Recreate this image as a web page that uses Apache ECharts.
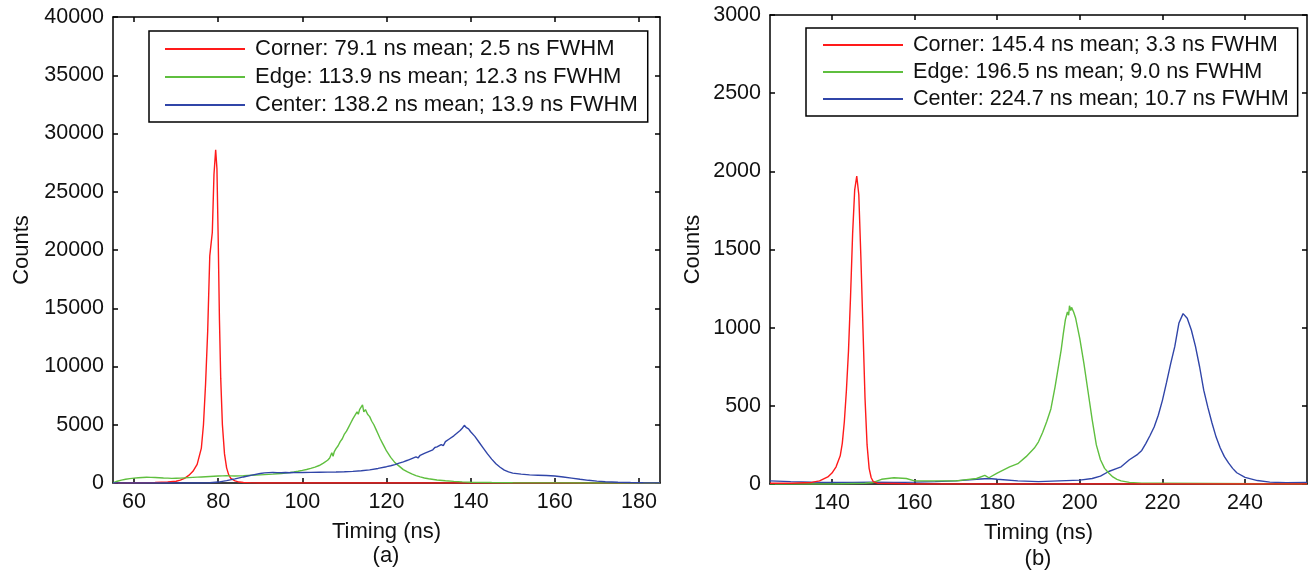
<!DOCTYPE html>
<html>
<head>
<meta charset="utf-8">
<script src="https://cdn.jsdelivr.net/npm/echarts@6/dist/echarts.min.js"></script>
<style>
  html, body { margin: 0; padding: 0; background: #fff; }
  #chart { width: 1316px; height: 576px; }
</style>
</head>
<body>
<div id="chart"></div>
<script>
// panel (a): [timing ns, counts]
const cornerA = [[55,0],[60,20],[65,40],[68,80],[70,150],[71,250],[72,400],[73,650],[74,1000],[75,1600],[76,3000],[76.5,5000],[77,8500],[77.5,13000],[78,19500],[78.3,20500],[78.6,21500],[79,26500],[79.4,28600],[79.7,27000],[80,21000],[80.3,14000],[80.6,9000],[81,5000],[81.5,2500],[82,1300],[82.5,700],[83,400],[84,180],[85,80],[86,40],[88,10],[90,0],[185,0]];
const edgeA = [[55,0],[56,150],[57,250],[58,320],[59,380],[60,420],[61,450],[62,470],[63,490],[64,480],[65,470],[66,450],[67,430],[68,420],[69,400],[70,410],[71,420],[72,440],[73,460],[74,480],[75,500],[76,520],[77,540],[78,560],[79,580],[80,600],[81,610],[82,620],[83,610],[84,600],[85,610],[86,620],[87,640],[88,660],[89,680],[90,700],[91,720],[92,740],[93,760],[94,790],[95,820],[96,860],[97,900],[98,950],[99,1010],[100,1080],[101,1160],[102,1250],[103,1370],[104,1500],[105,1700],[106,1950],[106.5,2150],[107,2600],[107.3,2300],[107.6,2700],[108,2950],[108.5,3200],[109,3550],[109.5,3800],[110,4200],[110.5,4450],[111,4800],[111.5,5150],[112,5500],[112.5,5800],[113,6100],[113.3,5900],[113.6,6300],[114,6200],[114.3,6700],[114.6,6100],[115,6300],[115.5,5900],[116,5700],[116.5,5300],[117,5000],[117.5,4600],[118,4200],[118.5,3800],[119,3450],[119.5,3100],[120,2750],[121,2200],[122,1750],[123,1450],[124,1150],[125,950],[126,780],[127,640],[128,520],[129,430],[130,360],[132,260],[134,190],[136,140],[138,100],[140,70],[145,40],[150,25],[160,10],[170,5],[185,0]];
const centerA = [[55,0],[75,0],[78,20],[80,80],[82,200],[84,350],[86,520],[88,680],[90,820],[91,870],[92,890],[93,900],[94,890],[95,880],[96,900],[97,880],[98,900],[99,890],[100,900],[102,910],[104,920],[106,930],[108,940],[110,960],[112,1000],[114,1050],[116,1130],[118,1250],[120,1400],[121,1480],[122,1580],[123,1700],[124,1820],[125,1950],[126,2100],[127,2250],[127.5,2150],[128,2380],[129,2550],[130,2700],[131,2850],[131.5,3050],[132,3100],[133,3300],[133.5,3200],[134,3550],[135,3800],[136,4050],[137,4350],[137.5,4500],[138,4700],[138.5,4950],[139,4750],[139.5,4650],[140,4400],[141,4000],[142,3500],[143,3000],[144,2500],[145,2050],[146,1650],[147,1350],[148,1100],[149,950],[150,850],[152,760],[154,700],[156,670],[158,640],[160,600],[162,520],[164,420],[166,320],[168,230],[170,160],[172,110],[175,70],[178,40],[181,20],[185,10]];

// panel (b)
const cornerB = [[125,5],[130,5],[135,10],[137,20],[139,45],[140,70],[141,110],[142,180],[142.5,260],[143,400],[143.5,600],[144,850],[144.5,1200],[145,1600],[145.5,1880],[146,1970],[146.5,1850],[147,1450],[147.5,1000],[148,550],[148.5,250],[149,100],[149.5,40],[150,15],[151,5],[155,3],[160,0],[255,0]];
const edgeB = [[125,0],[140,0],[148,5],[150,10],[152,30],[155,40],[158,35],[160,20],[165,20],[170,20],[175,35],[177,55],[178,40],[180,70],[183,110],[185,130],[187,175],[189,230],[190,270],[191,330],[192,400],[193,480],[194,620],[195,780],[195.5,860],[196,960],[196.5,1050],[197,1100],[197.3,1080],[197.5,1140],[197.8,1110],[198,1130],[198.5,1100],[199,1060],[200,930],[201,770],[202,590],[203,410],[204,250],[205,155],[206,100],[207,70],[208,45],[209,30],[210,20],[212,10],[215,5],[220,5],[255,0]];
const centerB = [[125,20],[130,15],[135,12],[140,10],[145,10],[150,12],[155,10],[160,12],[165,15],[170,20],[175,30],[178,35],[180,30],[185,20],[190,15],[195,20],[200,25],[203,35],[205,50],[207,80],[209,100],[210,110],[212,155],[214,190],[215,215],[216,260],[217,310],[218,365],[219,440],[220,535],[221,650],[222,770],[223,880],[224,1030],[225,1090],[226,1060],[227,985],[228,880],[229,750],[230,600],[231,490],[232,390],[233,300],[234,230],[235,175],[236,135],[237,100],[238,72],[240,42],[243,22],[246,12],[250,8],[255,10]];

const namesA = ['Corner: 79.1 ns mean; 2.5 ns FWHM', 'Edge: 113.9 ns mean; 12.3 ns FWHM', 'Center: 138.2 ns mean; 13.9 ns FWHM'];
const namesB = ['Corner: 145.4 ns mean; 3.3 ns FWHM', 'Edge: 196.5 ns mean; 9.0 ns FWHM', 'Center: 224.7 ns mean; 10.7 ns FWHM'];
const xTicksA = [60, 80, 100, 120, 140, 160, 180];
const xTicksB = [140, 160, 180, 200, 220, 240];

const RED = '#ff1a1a', GREEN = '#5fbf3f', BLUE = '#3045a8';
const FONT = 'Arial, "Liberation Sans", sans-serif';

let chart = echarts.init(document.getElementById('chart'));

function xAx(grid, min, max, ticks, top) {
  return {
    type: 'value', gridIndex: grid, min: min, max: max, position: top ? 'top' : 'bottom',
    name: top ? '' : 'Timing (ns)', nameLocation: 'middle', nameGap: 38,
    nameTextStyle: { color: '#111', fontSize: 22, fontFamily: FONT },
    splitLine: { show: false },
    axisLine: { show: true, onZero: false, lineStyle: { color: '#000', width: 1.5 } },
    axisTick: { show: true, inside: true, length: 5, customValues: ticks, lineStyle: { color: '#000', width: 1.5 } },
    axisLabel: { show: !top, customValues: ticks, margin: 8, color: '#111', fontSize: 21.5, fontFamily: FONT, formatter: (v) => String(v) },
  };
}
function yAx(grid, max, step, gap, right) {
  return {
    type: 'value', gridIndex: grid, min: 0, max: max, interval: step, position: right ? 'right' : 'left',
    name: right ? '' : 'Counts', nameLocation: 'middle', nameGap: gap,
    nameTextStyle: { color: '#111', fontSize: 22, fontFamily: FONT },
    splitLine: { show: false },
    axisLine: { show: true, onZero: false, lineStyle: { color: '#000', width: 1.5 } },
    axisTick: { show: true, inside: true, length: 5, lineStyle: { color: '#000', width: 1.5 } },
    axisLabel: { show: !right, margin: 9, color: '#111', fontSize: 21.5, fontFamily: FONT, formatter: (v) => String(v) },
  };
}
function line(name, data, color, xi, yi) {
  return {
    name: name, type: 'line', data: data, xAxisIndex: xi, yAxisIndex: yi,
    symbol: 'none', animation: false,
    lineStyle: { color: color, width: 1.4 }, itemStyle: { color: color },
  };
}
function legendBox(names, left, top, pad, gap, fs) {
  return {
    left: left, top: top, orient: 'vertical', data: names,
    icon: 'rect', itemWidth: 80, itemHeight: 2, itemGap: gap,
    borderColor: '#000', borderWidth: 1.5, padding: pad,
    selectedMode: false, backgroundColor: '#fff',
    textStyle: { color: '#111', fontSize: fs, fontFamily: FONT, lineHeight: 22, padding: [0, 0, 0, 5] },
  };
}

var option = {
  animation: false,
  title: [
    { text: '(a)', left: 386, top: 545, textAlign: 'center', textStyle: { fontSize: 22, fontWeight: 'normal', color: '#111', fontFamily: FONT }, padding: 0 },
    { text: '(b)', left: 1038, top: 548, textAlign: 'center', textStyle: { fontSize: 22, fontWeight: 'normal', color: '#111', fontFamily: FONT }, padding: 0 },
  ],
  grid: [
    { left: 113, top: 17, width: 547, height: 466 },
    { left: 770, top: 15, width: 537, height: 469 },
  ],
  xAxis: [
    xAx(0, 55, 185, xTicksA, false), xAx(0, 55, 185, xTicksA, true),
    xAx(1, 125, 255, xTicksB, false), xAx(1, 125, 255, xTicksB, true),
  ],
  yAxis: [
    yAx(0, 40000, 5000, 80, false), yAx(0, 40000, 5000, 0, true),
    yAx(1, 3000, 500, 66, false), yAx(1, 3000, 500, 0, true),
  ],
  legend: [
    legendBox(namesA, 149, 31, [7, 10, 6, 16], 6, 22),
    legendBox(namesB, 806, 28, [6, 9, 6, 17], 5, 21.6),
  ],
  series: [
    line(namesA[0], cornerA, RED, 0, 0),
    line(namesA[1], edgeA, GREEN, 0, 0),
    line(namesA[2], centerA, BLUE, 0, 0),
    line(namesB[2], centerB, BLUE, 2, 2),
    line(namesB[1], edgeB, GREEN, 2, 2),
    line(namesB[0], cornerB, RED, 2, 2),
  ],
};
chart.setOption(option);
</script>
</body>
</html>
